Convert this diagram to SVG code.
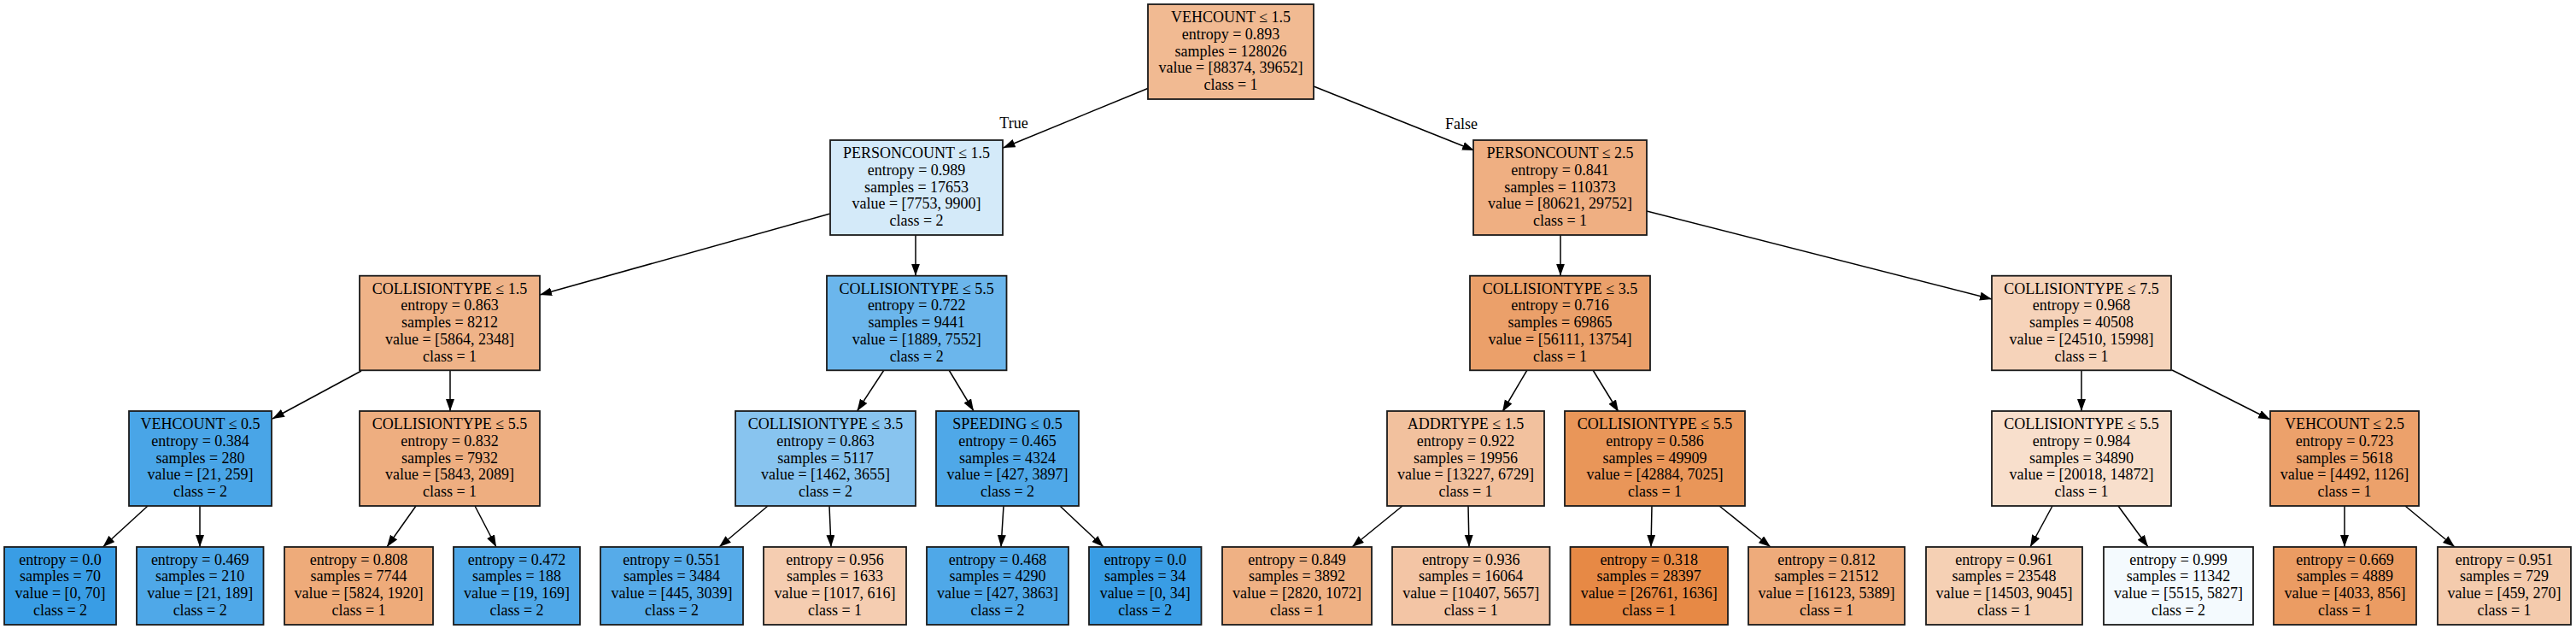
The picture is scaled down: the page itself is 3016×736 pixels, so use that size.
<svg xmlns="http://www.w3.org/2000/svg" width="3016" height="736" viewBox="0 0 3016 736">
<style>
rect.n{stroke:#1a1a1a;stroke-width:1.8}
text{font-family:"Liberation Serif","Times New Roman",serif;font-size:18px;text-anchor:middle;fill:#000}
.e line{stroke:#000;stroke-width:1.5;marker-end:url(#ah)}
</style>
<defs>
<marker id="ah" markerUnits="userSpaceOnUse" markerWidth="16" markerHeight="12" refX="14" refY="5" orient="auto"><path d="M0,0 L14,5 L0,10 z" fill="#000"/></marker>
</defs>
<rect width="3016" height="736" fill="#fff"/>
<g class="e">
<line x1="1345" y1="103" x2="1174.5" y2="173"/>
<line x1="1538" y1="101" x2="1726" y2="176"/>
<line x1="972" y1="250" x2="632" y2="345"/>
<line x1="1072" y1="275" x2="1072" y2="322.7"/>
<line x1="1827" y1="275" x2="1827" y2="322.7"/>
<line x1="1928" y1="247" x2="2332" y2="350"/>
<line x1="423" y1="434" x2="319" y2="490"/>
<line x1="527" y1="433" x2="527" y2="481"/>
<line x1="1035" y1="433" x2="1003.5" y2="481"/>
<line x1="1111" y1="433" x2="1140" y2="481"/>
<line x1="1788" y1="433" x2="1759" y2="482"/>
<line x1="1865" y1="433" x2="1895" y2="482"/>
<line x1="2437" y1="433" x2="2437" y2="481"/>
<line x1="2543" y1="433" x2="2658" y2="491"/>
<line x1="173" y1="592" x2="120.5" y2="640"/>
<line x1="234" y1="592" x2="234" y2="640"/>
<line x1="487" y1="592" x2="453" y2="640"/>
<line x1="556" y1="592" x2="581" y2="640"/>
<line x1="899" y1="592" x2="842" y2="640"/>
<line x1="971" y1="592" x2="973" y2="640"/>
<line x1="1175" y1="592" x2="1172" y2="640"/>
<line x1="1241" y1="592" x2="1292" y2="640"/>
<line x1="1642" y1="592" x2="1583" y2="640"/>
<line x1="1719" y1="592" x2="1720" y2="640"/>
<line x1="1934" y1="592" x2="1933" y2="640"/>
<line x1="2013" y1="592" x2="2073" y2="640"/>
<line x1="2403" y1="592" x2="2377" y2="640"/>
<line x1="2480" y1="592" x2="2515" y2="640"/>
<line x1="2745" y1="592" x2="2745" y2="640"/>
<line x1="2816" y1="592" x2="2874" y2="640"/>
<text x="1187" y="150">True</text>
<text x="1711" y="151">False</text>
</g>
<g id="n0"><rect class="n" x="1344" y="5" width="194" height="111" fill="#f1ba92"/><text y="26"><tspan x="1441">VEHCOUNT ≤ 1.5</tspan><tspan x="1441" dy="19.8">entropy = 0.893</tspan><tspan x="1441" dy="19.8">samples = 128026</tspan><tspan x="1441" dy="19.8">value = [88374, 39652]</tspan><tspan x="1441" dy="19.8">class = 1</tspan></text></g>
<g id="n1"><rect class="n" x="972" y="164" width="202" height="111" fill="#d4eaf9"/><text y="185"><tspan x="1073">PERSONCOUNT ≤ 1.5</tspan><tspan x="1073" dy="19.8">entropy = 0.989</tspan><tspan x="1073" dy="19.8">samples = 17653</tspan><tspan x="1073" dy="19.8">value = [7753, 9900]</tspan><tspan x="1073" dy="19.8">class = 2</tspan></text></g>
<g id="n2"><rect class="n" x="1725" y="164" width="203" height="111" fill="#efaf82"/><text y="185"><tspan x="1826.5">PERSONCOUNT ≤ 2.5</tspan><tspan x="1826.5" dy="19.8">entropy = 0.841</tspan><tspan x="1826.5" dy="19.8">samples = 110373</tspan><tspan x="1826.5" dy="19.8">value = [80621, 29752]</tspan><tspan x="1826.5" dy="19.8">class = 1</tspan></text></g>
<g id="n3"><rect class="n" x="421" y="322.7" width="211" height="110.6" fill="#efb388"/><text y="343.5"><tspan x="526.5">COLLISIONTYPE ≤ 1.5</tspan><tspan x="526.5" dy="19.8">entropy = 0.863</tspan><tspan x="526.5" dy="19.8">samples = 8212</tspan><tspan x="526.5" dy="19.8">value = [5864, 2348]</tspan><tspan x="526.5" dy="19.8">class = 1</tspan></text></g>
<g id="n4"><rect class="n" x="968" y="322.7" width="210.5" height="110.6" fill="#6bb6ec"/><text y="343.5"><tspan x="1073.2">COLLISIONTYPE ≤ 5.5</tspan><tspan x="1073.2" dy="19.8">entropy = 0.722</tspan><tspan x="1073.2" dy="19.8">samples = 9441</tspan><tspan x="1073.2" dy="19.8">value = [1889, 7552]</tspan><tspan x="1073.2" dy="19.8">class = 2</tspan></text></g>
<g id="n5"><rect class="n" x="1721" y="322.7" width="211" height="110.6" fill="#eba06a"/><text y="343.5"><tspan x="1826.5">COLLISIONTYPE ≤ 3.5</tspan><tspan x="1826.5" dy="19.8">entropy = 0.716</tspan><tspan x="1826.5" dy="19.8">samples = 69865</tspan><tspan x="1826.5" dy="19.8">value = [56111, 13754]</tspan><tspan x="1826.5" dy="19.8">class = 1</tspan></text></g>
<g id="n6"><rect class="n" x="2332" y="322.7" width="210" height="110.6" fill="#f6d3ba"/><text y="343.5"><tspan x="2437">COLLISIONTYPE ≤ 7.5</tspan><tspan x="2437" dy="19.8">entropy = 0.968</tspan><tspan x="2437" dy="19.8">samples = 40508</tspan><tspan x="2437" dy="19.8">value = [24510, 15998]</tspan><tspan x="2437" dy="19.8">class = 1</tspan></text></g>
<g id="n7"><rect class="n" x="151" y="481" width="167" height="111" fill="#49a5e7"/><text y="502"><tspan x="234.5">VEHCOUNT ≤ 0.5</tspan><tspan x="234.5" dy="19.8">entropy = 0.384</tspan><tspan x="234.5" dy="19.8">samples = 280</tspan><tspan x="234.5" dy="19.8">value = [21, 259]</tspan><tspan x="234.5" dy="19.8">class = 2</tspan></text></g>
<g id="n8"><rect class="n" x="421" y="481" width="211" height="111" fill="#eeae80"/><text y="502"><tspan x="526.5">COLLISIONTYPE ≤ 5.5</tspan><tspan x="526.5" dy="19.8">entropy = 0.832</tspan><tspan x="526.5" dy="19.8">samples = 7932</tspan><tspan x="526.5" dy="19.8">value = [5843, 2089]</tspan><tspan x="526.5" dy="19.8">class = 1</tspan></text></g>
<g id="n9"><rect class="n" x="861" y="481" width="211" height="111" fill="#88c4ef"/><text y="502"><tspan x="966.5">COLLISIONTYPE ≤ 3.5</tspan><tspan x="966.5" dy="19.8">entropy = 0.863</tspan><tspan x="966.5" dy="19.8">samples = 5117</tspan><tspan x="966.5" dy="19.8">value = [1462, 3655]</tspan><tspan x="966.5" dy="19.8">class = 2</tspan></text></g>
<g id="n10"><rect class="n" x="1096" y="481" width="167" height="111" fill="#4fa8e8"/><text y="502"><tspan x="1179.5">SPEEDING ≤ 0.5</tspan><tspan x="1179.5" dy="19.8">entropy = 0.465</tspan><tspan x="1179.5" dy="19.8">samples = 4324</tspan><tspan x="1179.5" dy="19.8">value = [427, 3897]</tspan><tspan x="1179.5" dy="19.8">class = 2</tspan></text></g>
<g id="n11"><rect class="n" x="1624" y="481" width="184" height="111" fill="#f2c19e"/><text y="502"><tspan x="1716">ADDRTYPE ≤ 1.5</tspan><tspan x="1716" dy="19.8">entropy = 0.922</tspan><tspan x="1716" dy="19.8">samples = 19956</tspan><tspan x="1716" dy="19.8">value = [13227, 6729]</tspan><tspan x="1716" dy="19.8">class = 1</tspan></text></g>
<g id="n12"><rect class="n" x="1832" y="481" width="211" height="111" fill="#e99659"/><text y="502"><tspan x="1937.5">COLLISIONTYPE ≤ 5.5</tspan><tspan x="1937.5" dy="19.8">entropy = 0.586</tspan><tspan x="1937.5" dy="19.8">samples = 49909</tspan><tspan x="1937.5" dy="19.8">value = [42884, 7025]</tspan><tspan x="1937.5" dy="19.8">class = 1</tspan></text></g>
<g id="n13"><rect class="n" x="2332" y="481" width="210" height="111" fill="#f8dfcc"/><text y="502"><tspan x="2437">COLLISIONTYPE ≤ 5.5</tspan><tspan x="2437" dy="19.8">entropy = 0.984</tspan><tspan x="2437" dy="19.8">samples = 34890</tspan><tspan x="2437" dy="19.8">value = [20018, 14872]</tspan><tspan x="2437" dy="19.8">class = 1</tspan></text></g>
<g id="n14"><rect class="n" x="2658" y="481" width="174" height="111" fill="#eca16b"/><text y="502"><tspan x="2745">VEHCOUNT ≤ 2.5</tspan><tspan x="2745" dy="19.8">entropy = 0.723</tspan><tspan x="2745" dy="19.8">samples = 5618</tspan><tspan x="2745" dy="19.8">value = [4492, 1126]</tspan><tspan x="2745" dy="19.8">class = 1</tspan></text></g>
<g id="l1"><rect class="n" x="5" y="640" width="131" height="91" fill="#399de5"/><text y="660.5"><tspan x="70.5">entropy = 0.0</tspan><tspan x="70.5" dy="19.8">samples = 70</tspan><tspan x="70.5" dy="19.8">value = [0, 70]</tspan><tspan x="70.5" dy="19.8">class = 2</tspan></text></g>
<g id="l2"><rect class="n" x="160" y="640" width="148.5" height="91" fill="#4fa8e8"/><text y="660.5"><tspan x="234.2">entropy = 0.469</tspan><tspan x="234.2" dy="19.8">samples = 210</tspan><tspan x="234.2" dy="19.8">value = [21, 189]</tspan><tspan x="234.2" dy="19.8">class = 2</tspan></text></g>
<g id="l3"><rect class="n" x="333" y="640" width="174" height="91" fill="#eeab7a"/><text y="660.5"><tspan x="420">entropy = 0.808</tspan><tspan x="420" dy="19.8">samples = 7744</tspan><tspan x="420" dy="19.8">value = [5824, 1920]</tspan><tspan x="420" dy="19.8">class = 1</tspan></text></g>
<g id="l4"><rect class="n" x="531" y="640" width="148" height="91" fill="#4fa8e8"/><text y="660.5"><tspan x="605">entropy = 0.472</tspan><tspan x="605" dy="19.8">samples = 188</tspan><tspan x="605" dy="19.8">value = [19, 169]</tspan><tspan x="605" dy="19.8">class = 2</tspan></text></g>
<g id="l5"><rect class="n" x="703" y="640" width="167" height="91" fill="#56abe9"/><text y="660.5"><tspan x="786.5">entropy = 0.551</tspan><tspan x="786.5" dy="19.8">samples = 3484</tspan><tspan x="786.5" dy="19.8">value = [445, 3039]</tspan><tspan x="786.5" dy="19.8">class = 2</tspan></text></g>
<g id="l6"><rect class="n" x="894" y="640" width="167" height="91" fill="#f5cdb1"/><text y="660.5"><tspan x="977.5">entropy = 0.956</tspan><tspan x="977.5" dy="19.8">samples = 1633</tspan><tspan x="977.5" dy="19.8">value = [1017, 616]</tspan><tspan x="977.5" dy="19.8">class = 1</tspan></text></g>
<g id="l7"><rect class="n" x="1085" y="640" width="166" height="91" fill="#4fa8e8"/><text y="660.5"><tspan x="1168">entropy = 0.468</tspan><tspan x="1168" dy="19.8">samples = 4290</tspan><tspan x="1168" dy="19.8">value = [427, 3863]</tspan><tspan x="1168" dy="19.8">class = 2</tspan></text></g>
<g id="l8"><rect class="n" x="1275" y="640" width="131.5" height="91" fill="#399de5"/><text y="660.5"><tspan x="1340.7">entropy = 0.0</tspan><tspan x="1340.7" dy="19.8">samples = 34</tspan><tspan x="1340.7" dy="19.8">value = [0, 34]</tspan><tspan x="1340.7" dy="19.8">class = 2</tspan></text></g>
<g id="l9"><rect class="n" x="1431" y="640" width="175" height="91" fill="#efb184"/><text y="660.5"><tspan x="1518.5">entropy = 0.849</tspan><tspan x="1518.5" dy="19.8">samples = 3892</tspan><tspan x="1518.5" dy="19.8">value = [2820, 1072]</tspan><tspan x="1518.5" dy="19.8">class = 1</tspan></text></g>
<g id="l10"><rect class="n" x="1630" y="640" width="184.5" height="91" fill="#f3c5a5"/><text y="660.5"><tspan x="1722.2">entropy = 0.936</tspan><tspan x="1722.2" dy="19.8">samples = 16064</tspan><tspan x="1722.2" dy="19.8">value = [10407, 5657]</tspan><tspan x="1722.2" dy="19.8">class = 1</tspan></text></g>
<g id="l11"><rect class="n" x="1838.5" y="640" width="184.5" height="91" fill="#e78945"/><text y="660.5"><tspan x="1930.7">entropy = 0.318</tspan><tspan x="1930.7" dy="19.8">samples = 28397</tspan><tspan x="1930.7" dy="19.8">value = [26761, 1636]</tspan><tspan x="1930.7" dy="19.8">class = 1</tspan></text></g>
<g id="l12"><rect class="n" x="2047" y="640" width="183" height="91" fill="#eeab7b"/><text y="660.5"><tspan x="2138.5">entropy = 0.812</tspan><tspan x="2138.5" dy="19.8">samples = 21512</tspan><tspan x="2138.5" dy="19.8">value = [16123, 5389]</tspan><tspan x="2138.5" dy="19.8">class = 1</tspan></text></g>
<g id="l13"><rect class="n" x="2255" y="640" width="183" height="91" fill="#f5d0b4"/><text y="660.5"><tspan x="2346.5">entropy = 0.961</tspan><tspan x="2346.5" dy="19.8">samples = 23548</tspan><tspan x="2346.5" dy="19.8">value = [14503, 9045]</tspan><tspan x="2346.5" dy="19.8">class = 1</tspan></text></g>
<g id="l14"><rect class="n" x="2463" y="640" width="175" height="91" fill="#f4fafe"/><text y="660.5"><tspan x="2550.5">entropy = 0.999</tspan><tspan x="2550.5" dy="19.8">samples = 11342</tspan><tspan x="2550.5" dy="19.8">value = [5515, 5827]</tspan><tspan x="2550.5" dy="19.8">class = 2</tspan></text></g>
<g id="l15"><rect class="n" x="2662" y="640" width="167" height="91" fill="#eb9c63"/><text y="660.5"><tspan x="2745.5">entropy = 0.669</tspan><tspan x="2745.5" dy="19.8">samples = 4889</tspan><tspan x="2745.5" dy="19.8">value = [4033, 856]</tspan><tspan x="2745.5" dy="19.8">class = 1</tspan></text></g>
<g id="l16"><rect class="n" x="2854" y="640" width="156" height="91" fill="#f4cbad"/><text y="660.5"><tspan x="2932">entropy = 0.951</tspan><tspan x="2932" dy="19.8">samples = 729</tspan><tspan x="2932" dy="19.8">value = [459, 270]</tspan><tspan x="2932" dy="19.8">class = 1</tspan></text></g>
</svg>
